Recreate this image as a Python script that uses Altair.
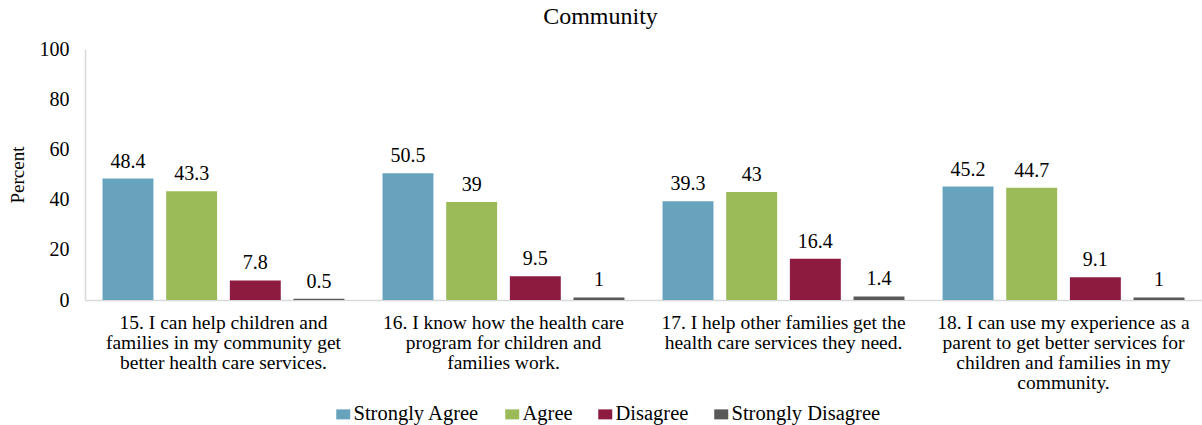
import altair as alt
import pandas as pd

categories = [
    "15. I can help children and|families in my community get|better health care services.",
    "16. I know how the health care|program for children and|families work.",
    "17. I help other families get the|health care services they need.",
    "18. I can use my experience as a|parent to get better services for|children and families in my|community.",
]
series = ["Strongly Agree", "Agree", "Disagree", "Strongly Disagree"]
strongly_agree = [48.4, 50.5, 39.3, 45.2]
agree = [43.3, 39, 43, 44.7]
disagree = [7.8, 9.5, 16.4, 9.1]
strongly_disagree = [0.5, 1, 1.4, 1]
colors = ["#68A3BE", "#9BBB59", "#8C1B3F", "#595959"]

rows = []
for s, vals in zip(series, [strongly_agree, agree, disagree, strongly_disagree]):
    for c, v in zip(categories, vals):
        rows.append({"category": c, "series": s, "value": v})
df = pd.DataFrame(rows)

FONT = "Liberation Serif, Times New Roman, DejaVu Serif, serif"

x = alt.X(
    "category:N",
    sort=categories,
    scale=alt.Scale(paddingInner=0.136, paddingOuter=0.0625),
    axis=alt.Axis(
        title=None,
        labelAngle=0,
        labelExpr="split(datum.label, '|')",
        labelLimit=0,
        labelFont=FONT,
        labelFontSize=19.5,
        labelColor="#000000",
        labelLineHeight=20,
        labelPadding=13,
        ticks=False,
        domainColor="#D9D9D9",
        domainWidth=1.5,
    ),
)
xoff = alt.XOffset("series:N", sort=series, scale=alt.Scale(paddingInner=0.2, paddingOuter=0))
y = alt.Y(
    "value:Q",
    scale=alt.Scale(domain=[0, 100]),
    axis=alt.Axis(
        title="Percent",
        titleFont=FONT,
        titleFontSize=19,
        titleFontWeight="normal",
        titleColor="#000000",
        titlePadding=12,
        values=[0, 20, 40, 60, 80, 100],
        labelFont=FONT,
        labelFontSize=20,
        labelColor="#000000",
        labelPadding=16,
        ticks=False,
        grid=False,
        domainColor="#D9D9D9",
        domainWidth=1.5,
    ),
)
color = alt.Color(
    "series:N",
    sort=series,
    scale=alt.Scale(domain=series, range=colors),
    legend=alt.Legend(
        title=None,
        orient="none",
        direction="horizontal",
        legendX=248,
        legendY=355,
        symbolType="M-1.4,-1L1.4,-1L1.4,1L-1.4,1Z",
        symbolSize=100,
        symbolStrokeWidth=0,
        labelFont=FONT,
        labelFontSize=20.5,
        labelColor="#000000",
        labelOffset=0,
        columnPadding=22,
    ),
)

base = alt.Chart(df)
bars = base.mark_bar().encode(x=x, xOffset=xoff, y=y, color=color)
labels = base.mark_text(
    baseline="alphabetic", dy=-11, font=FONT, fontSize=20, color="#000000"
).encode(x=x, xOffset=xoff, y=y, text=alt.Text("value:Q"))

chart = (
    alt.layer(bars, labels)
    .properties(
        width=1117,
        height=251,
        title=alt.TitleParams(
            "Community", font=FONT, fontSize=24, fontWeight="normal", color="#000000",
            anchor="middle", dx=-43, offset=10,
        ),
        autosize=alt.AutoSizeParams(type="none"),
        padding={"left": 85, "top": 49, "right": 0, "bottom": 125},
    )
    .configure(background="#FFFFFF", font=FONT)
    .configure_view(strokeWidth=0, stroke="transparent")
)

chart.save("out.html", embed_options={"renderer": "svg", "actions": False})
